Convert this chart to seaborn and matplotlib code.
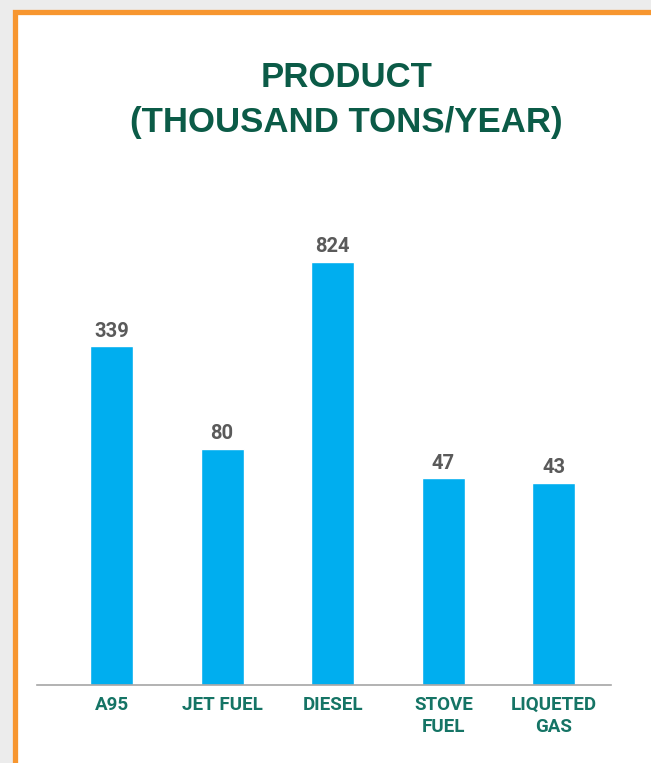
import numpy as np
import pandas as pd
import matplotlib
matplotlib.use("Agg")
import matplotlib.pyplot as plt
from matplotlib.patches import Rectangle
import seaborn as sns

# Annual output per product, thousand tons
products = ["A95", "JET FUEL", "DIESEL", "STOVE\nFUEL", "LIQUETED\nGAS"]
output_kt = [339, 80, 824, 47, 43]

BAR_BLUE = "#00AEEF"
TITLE_GREEN = "#0B5B47"
TICK_GREEN = "#157465"
VALUE_GRAY = "#5A5A5A"
FRAME_ORANGE = "#F7962F"

sns.set_theme(style="white")
plt.rcParams["font.family"] = ["Roboto", "DejaVu Sans"]

W, H = 651, 763
fig = plt.figure(figsize=(W / 100, H / 100), dpi=100)
fig.patch.set_facecolor("#ECECEC")

# White card with an orange frame on its top and left edges
fig.patches.append(Rectangle((14.5 / W, -0.2), 1.5, 1 - 11.5 / H + 0.2,
                             transform=fig.transFigure, facecolor="white",
                             edgecolor=FRAME_ORANGE, linewidth=3.8, zorder=-5))

ax = fig.add_axes([37 / W, 78 / H, 574 / W, 455 / H])
ax.set_facecolor("none")
ax.set_zorder(2)

df = pd.DataFrame({"product": products, "kt": output_kt})
sns.barplot(data=df, x="product", y="kt", color=BAR_BLUE, width=0.39,
            saturation=1, ax=ax)

# Compressed (fourth-root) value axis
ax.set_yscale("function", functions=(lambda v: np.sign(v) * np.abs(v) ** 0.25,
                                     lambda v: np.sign(v) * np.abs(v) ** 4))
ax.set_ylim(0, 1103)
ax.set_xlim(-0.674, 4.516)

for cont in ax.containers:
    ax.bar_label(cont, labels=[str(v) for v in output_kt], padding=4,
                 fontsize=14.5, fontweight="bold", color=VALUE_GRAY)

ax.set_xlabel("")
ax.set_ylabel("")
ax.set_yticks([])
ax.tick_params(axis="x", length=0, pad=8)
for lbl in ax.get_xticklabels():
    lbl.set_fontsize(13.5)
    lbl.set_fontweight("bold")
    lbl.set_color(TICK_GREEN)
    lbl.set_linespacing(1.3)

for side in ["top", "right", "left"]:
    ax.spines[side].set_visible(False)
ax.spines["bottom"].set_color("#A6A6A6")
ax.spines["bottom"].set_linewidth(1.2)

fig.text(346.7 / W, 1 - 86.7 / H, "PRODUCT", ha="center", va="baseline",
         fontsize=25, fontweight="bold", color=TITLE_GREEN,
         family=["Liberation Sans", "DejaVu Sans"])
fig.text(346.7 / W, 1 - 131.7 / H, "(THOUSAND TONS/YEAR)", ha="center",
         va="baseline", fontsize=25, fontweight="bold", color=TITLE_GREEN,
         family=["Liberation Sans", "DejaVu Sans"])

fig.savefig("out.png", dpi=100, facecolor=fig.get_facecolor())
